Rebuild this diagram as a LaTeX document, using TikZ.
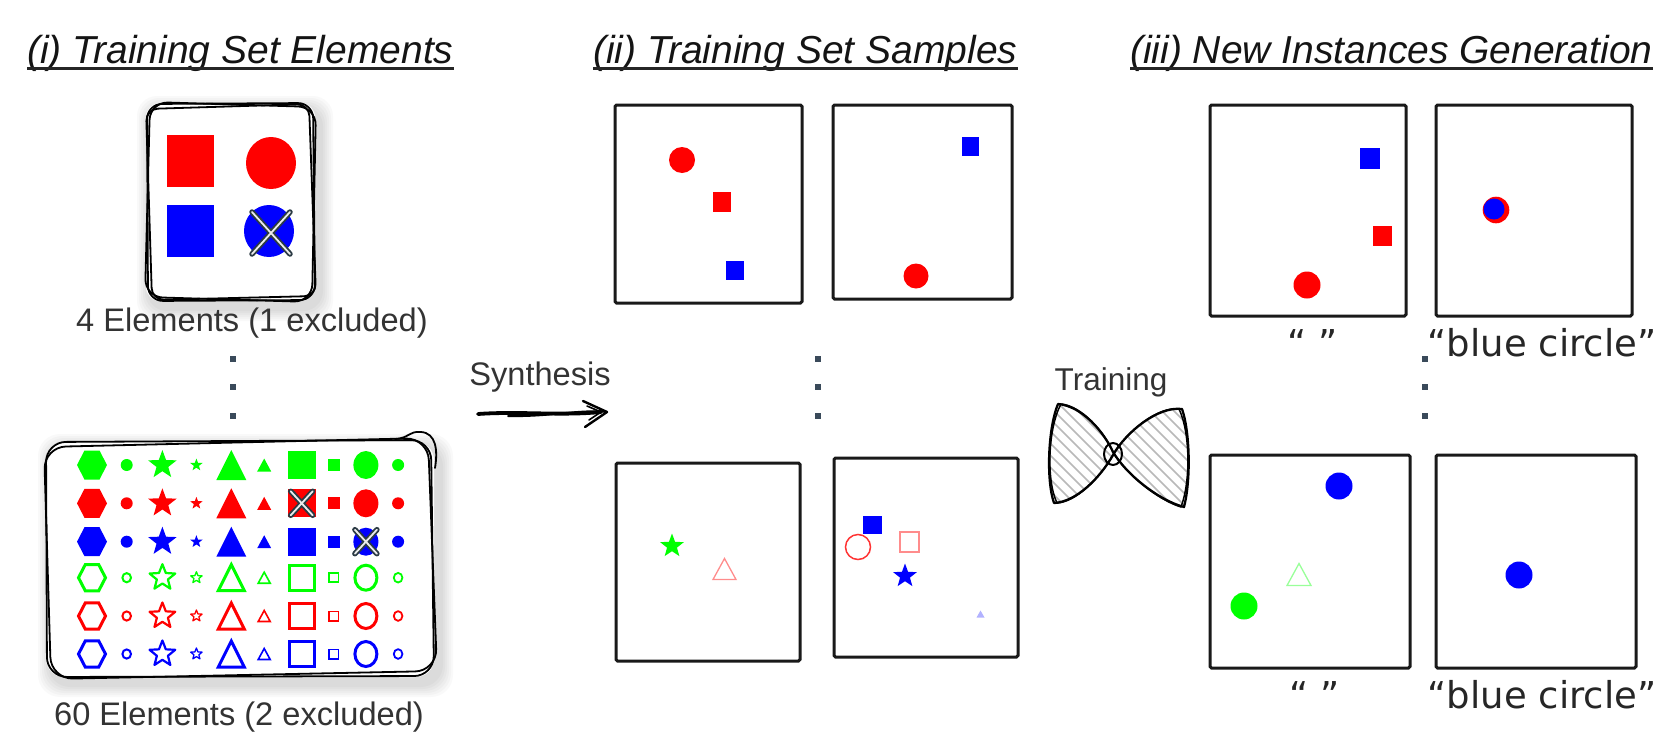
\documentclass[tikz,border=0pt]{standalone}
\usepackage{fontspec}
\setmainfont{Liberation Sans}
\newfontfamily\handfont{DejaVu Sans}
\usetikzlibrary{calc}
\definecolor{cR}{HTML}{FF0000}
\definecolor{cG}{HTML}{00FF00}
\definecolor{cB}{HTML}{0000FF}
\definecolor{txtc}{HTML}{333333}
\definecolor{dotc}{HTML}{3A4A5A}
\definecolor{xdark}{HTML}{2B3A44}
\newcommand\shHex[3]{\path[shift={(#1)},scale=#2,#3] (-15,0)--(-7.5,-14.5)--(7.5,-14.5)--(15,0)--(7.5,14.5)--(-7.5,14.5)--cycle;}
\newcommand\shStar[4]{\path[shift={(#1)},#4] (-90:#2)--(-54:#3)--(-18:#2)--(18:#3)--(54:#2)--(90:#3)--(126:#2)--(162:#3)--(198:#2)--(234:#3)--cycle;}
\newcommand\shTri[4]{\path[shift={(#1)},#4] (0,-#3)--(#2,#3)--(-#2,#3)--cycle;}
\newcommand\shSq[3]{\path[shift={(#1)},#3] (-#2,-#2) rectangle (#2,#2);}
\newcommand\shCirc[4]{\path[shift={(#1)},#4] (0,0) ellipse [x radius=#2,y radius=#3];}
\newcommand\shX[3]{\begin{scope}[shift={(#1)}]\draw[xo] (-#2,-#3)--(#2,#3) (-#2,#3)--(#2,-#3);\draw[xi] (-#2,-#3)--(#2,#3) (-#2,#3)--(#2,-#3);\end{scope}}
\newcommand\bowpath[1]{(1058+#1,404) .. controls (1082,406) and (1104,432) .. (1113,452) .. controls (1126,474) and (1158,500) .. (1184-#1,507) .. controls (1191,480) and (1190,432) .. (1182-#1,409) .. controls (1158,406) and (1126,432) .. (1113,455) .. controls (1100,478) and (1076,502) .. (1054+#1,503) .. controls (1046,480) and (1048,428) .. (1058+#1,404)}
\tikzset{
 rough/.style={draw=black,line width=1.8,line cap=round,line join=round},
 xo/.style={draw=xdark,line width=5.5,line cap=round},
 xi/.style={draw=white!85!gray,line width=1.8,line cap=round},
 pbox/.style={draw=black!90,line width=3,rounded corners=1.5},
 title/.style={font=\fontsize{39}{44}\selectfont\itshape,text=black!92,inner sep=0,anchor=base west},
 lbl/.style={font=\fontsize{32.6}{38}\selectfont,text=txtc,inner sep=0,anchor=base},
 hand/.style={font=\handfont\fontsize{37}{42}\selectfont,text=black!85,inner sep=0,anchor=base},
 uline/.style={draw=black!85,line width=2.6},
 dotm/.style={fill=dotc},
 hatch/.style={draw=gray!55,line width=1.5},
}
\begin{document}
\begin{tikzpicture}[x=1pt,y=-1pt]
\useasboundingbox (0,0) rectangle (1662,739);
\fill[white] (0,0) rectangle (1662,739);

% ---------- titles
\node[title] (t1) at (27,63) {(i) Training Set Elements};
\node[title] (t2) at (593,63) {(ii) Training Set Samples};
\node[title] (t3) at (1130,63) {(iii) New Instances Generation};
\foreach \t in {t1,t2,t3} \draw[uline] ([yshift=-5.5pt]\t.base west) -- ([yshift=-5.5pt]\t.base east);

% ---------- panel (i): small box
\foreach \s in {1,...,6} \fill[black,opacity=0.022,rounded corners=20] (149-\s*2,108-\s*2) rectangle (321+\s*2,309+\s*2);
\fill[white,rounded corners=14] (146,103) rectangle (315,301);
\draw[rough,rounded corners=15] (147,104) -- (313,103) -- (315,300) -- (148,301) -- cycle;
\draw[rough,rounded corners=18] (150,102) -- (316,107) -- (312,302) -- (145,297) -- cycle;
\draw[rough,rounded corners=12] (146,109) -- (309,104) -- (316,296) -- (152,300) -- cycle;
\fill[cR] (167,135) rectangle (214,187);
\shCirc{271,163}{25}{26}{fill=cR}
\fill[cB] (167,205) rectangle (214,257);
\shCirc{269,231}{25}{26}{fill=cB}
\shX{271,233}{19}{21}
\node[lbl] (l1) at (252,331) {4 Elements (1 excluded)};

% ---------- vertical dots
\foreach \x in {233,818,1425} \foreach \y in {359,387,416} \fill[dotm] (\x-3,\y-3) rectangle (\x+3,\y+3);

% ---------- panel (i): big box
\foreach \s in {1,...,6} \fill[black,opacity=0.022,rounded corners=22] (50-\s*2,446-\s*2) rectangle (441+\s*2,685+\s*2);
\fill[white,rounded corners=18] (46,442) rectangle (434,677);
\draw[rough,rounded corners=20] (46,442) -- (431,440) -- (434,676) -- (47,677) -- cycle;
\draw[rough,rounded corners=22] (44,447) -- (428,438) -- (437,671) -- (51,679) -- cycle;
\draw[rough] (395,439) .. controls (410,438) and (408,431) .. (421,432) .. controls (436,433) and (438,450) .. (435,468);
\foreach \yy/\cc in {465/cG,503.3/cR,541.7/cB}{
  \shHex{92,\yy}{1}{fill=\cc}
  \shCirc{126.7,\yy}{6}{6}{fill=\cc}
  \shStar{162.4,\yy}{15}{6.2}{fill=\cc}
  \shStar{196.4,\yy}{6.5}{2.7}{fill=\cc}
  \shTri{231.3,\yy}{15}{15}{fill=\cc}
  \shTri{264.2,\yy}{7}{6.5}{fill=\cc}
  \shSq{301.7,\yy}{14}{fill=\cc}
  \shSq{333.8,\yy}{6}{fill=\cc}
  \shCirc{365.9,\yy}{12.5}{14}{fill=\cc}
  \shCirc{398.1,\yy}{6}{6}{fill=\cc}
}
\foreach \yy/\cc in {577.7/cG,616/cR,654/cB}{
  \shHex{92,\yy}{0.9}{draw=\cc,line width=3}
  \shCirc{126.7,\yy}{4.3}{4.6}{draw=\cc,line width=2}
  \shStar{162.4,\yy}{13.5}{5.8}{draw=\cc,line width=2.2,line join=round}
  \shStar{196.4,\yy}{6}{2.6}{draw=\cc,line width=1.3,line join=round}
  \shTri{231.3,\yy}{13}{13}{draw=\cc,line width=3}
  \shTri{264.2,\yy}{6}{5.5}{draw=\cc,line width=1.6}
  \shSq{301.7,\yy}{12.5}{draw=\cc,line width=3}
  \shSq{333.8,\yy}{4.6}{draw=\cc,line width=1.8}
  \shCirc{365.9,\yy}{11}{12.5}{draw=\cc,line width=3}
  \shCirc{398.1,\yy}{4.3}{4.8}{draw=\cc,line width=1.8}
}
\shX{301.7,503.3}{11}{12}
\shX{365.9,541.7}{11}{12}
\node[lbl] (l2) at (239,725) {60 Elements (2 excluded)};

% ---------- synthesis arrow
\node[lbl] (syn) at (540,385) {Synthesis};
\coordinate (synA) at (478,414);
\coordinate (synB) at (607,412);
\draw[line width=3.8,line cap=round] (synA) .. controls (520,411) and (560,416) .. ($(synB)+(-6,0)$);
\draw[line width=2,line cap=round] ($(synA)+(30,2)$) .. controls (550,417) and (580,409) .. (synB);
\draw[line width=2.4,line cap=round,line join=round] ($(synB)+(-24,-11)$) -- (synB) -- ($(synB)+(-22,15)$);
\draw[line width=1.6,line cap=round,line join=round] ($(synB)+(-20,-6)$) -- ($(synB)+(-6,0)$) -- ($(synB)+(-18,8)$);

% ---------- panel (ii)
\draw[pbox] (615,105) rectangle (802,303);
\shCirc{682,160}{13}{13}{fill=cR}
\fill[cR] (713,192) rectangle (731,212);
\fill[cB] (726,261) rectangle (744,280);
\draw[pbox] (833,105) rectangle (1012,299);
\fill[cB] (962,137) rectangle (979,156);
\shCirc{916,276}{12.5}{12.5}{fill=cR}
\draw[pbox] (616,463) rectangle (800,661);
\shStar{672,546}{12.5}{5.2}{fill=cG}
\shTri{724.5,569}{11.5}{10.5}{draw=cR,draw opacity=0.45,line width=1.3}
\draw[pbox] (834,458) rectangle (1018,657);
\fill[cB] (863,516) rectangle (882,534);
\shCirc{858,547}{12.5}{12.5}{draw=cR,draw opacity=0.8,line width=1.5}
\draw[cR,draw opacity=0.45,line width=1.3] (900,532) rectangle (919,552);
\shStar{905,576}{12.5}{5.2}{fill=cB}
\shTri{980.5,614}{4}{3.5}{fill=cB,fill opacity=0.3}

% ---------- training bow tie
\node[lbl,font=\fontsize{31.5}{36}\selectfont] (trn) at (1111,390) {Training};
\begin{scope}
\clip \bowpath{0} -- cycle;
\foreach \i in {0,...,22} \draw[hatch] (915+\i*12,380) -- ++(160,160);
\end{scope}
\draw[rough,line width=2.3] \bowpath{0} -- cycle;
\draw[rough,line width=1.5] \bowpath{3} -- cycle;
\draw[rough,line width=2] (1113,454) ellipse [x radius=9,y radius=11];

% ---------- panel (iii)
\draw[pbox] (1210,105) rectangle (1406,316);
\fill[cB] (1360,148) rectangle (1380,169);
\fill[cR] (1373,226) rectangle (1392,246);
\shCirc{1307,285}{13.5}{13.5}{fill=cR}
\draw[pbox] (1436,105) rectangle (1632,316);
\shCirc{1496,210}{13.3}{13.3}{fill=cR}
\shCirc{1494,209}{10.5}{10.5}{fill=cB}
\node[hand] (q1) at (1313,356) {“ ”};
\node[hand] (bc1) at (1542,356) {“blue circle”};

\draw[pbox] (1210,455) rectangle (1410,668);
\shCirc{1339,486}{13.5}{13.5}{fill=cB}
\shTri{1299,574.5}{12}{11}{draw=cG,draw opacity=0.4,line width=1.3}
\shCirc{1244,606}{13.5}{13.5}{fill=cG}
\draw[pbox] (1436,455) rectangle (1636,668);
\shCirc{1519,575}{13.5}{13.5}{fill=cB}
\node[hand] (q2) at (1315,708) {“ ”};
\node[hand] (bc2) at (1542,708) {“blue circle”};
\end{tikzpicture}
\end{document}
